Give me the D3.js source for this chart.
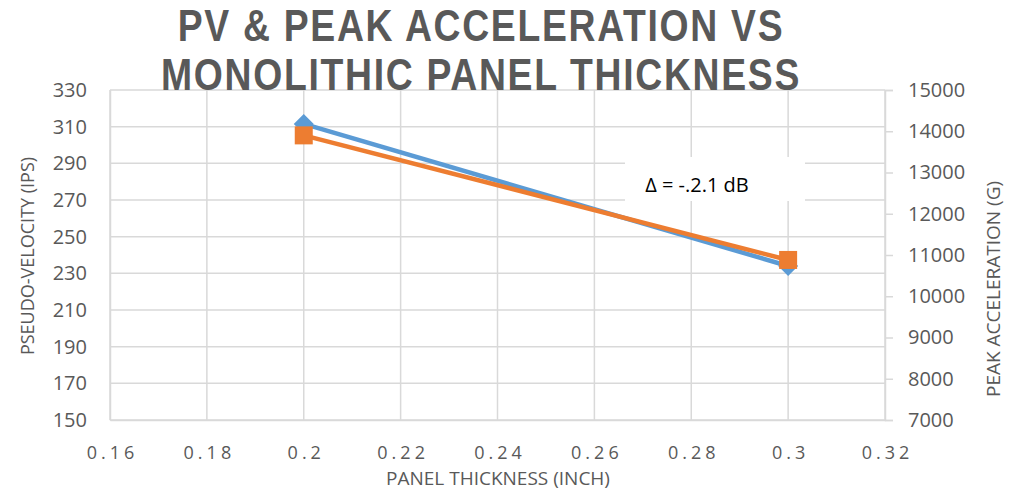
<!DOCTYPE html>
<html><head><meta charset="utf-8">
<script src="https://cdn.jsdelivr.net/npm/d3@7"></script>
<style>body{margin:0;background:#fff}</style>
</head><body>
<svg id="c" width="1010" height="491"></svg>
<script>
const thickness = [0.2, 0.3];
const pseudoVelocity = [311.5, 234];
const peakAccel = [13900, 10880];
const xTicks = [0.16,0.18,0.2,0.22,0.24,0.26,0.28,0.3,0.32];
const yLeftTicks = [150,170,190,210,230,250,270,290,310,330];
const yRightTicks = [7000,8000,9000,10000,11000,12000,13000,14000,15000];
const titleLines = ["PV & PEAK ACCELERATION VS","MONOLITHIC PANEL THICKNESS"];
const note = "Δ = -.2.1 dB";

const svg = d3.select("#c");
const L=110,R=885,T=90,B=420;
const font = "'Open Sans', sans-serif";
const grey = "#595959";
const x = d3.scaleLinear().domain([0.16,0.32]).range([L,R]);
const yL = d3.scaleLinear().domain([150,330]).range([B,T]);
const yR = d3.scaleLinear().domain([7000,15000]).range([B,T]);

// gridlines
svg.append("g").selectAll("line").data(yLeftTicks).join("line")
  .attr("x1",L).attr("x2",R).attr("y1",d=>yL(d)).attr("y2",d=>yL(d))
  .attr("stroke","#d9d9d9").attr("stroke-width",1.5);
svg.append("g").selectAll("line").data(xTicks).join("line")
  .attr("x1",d=>x(d)).attr("x2",d=>x(d)).attr("y1",T).attr("y2",B)
  .attr("stroke","#d9d9d9").attr("stroke-width",1.5);

// axes
const gl = svg.append("g").attr("transform",`translate(${L},0)`)
  .call(d3.axisLeft(yL).tickValues(yLeftTicks).tickSize(0).tickPadding(23));
const gr = svg.append("g").attr("transform",`translate(${R},0)`)
  .call(d3.axisRight(yR).tickValues(yRightTicks).tickSize(8).tickPadding(15).tickFormat(d3.format("d")));
const gb = svg.append("g").attr("transform",`translate(0,${B})`)
  .call(d3.axisBottom(x).tickValues(xTicks).tickSize(0).tickPadding(26).tickFormat(d=>String(+d.toFixed(2))));
[gl,gr,gb].forEach(g=>{
  g.select(".domain").attr("stroke","#d9d9d9").attr("stroke-width",1.5);
  g.selectAll(".tick line").attr("stroke","#d9d9d9").attr("stroke-width",1.5);
  g.selectAll("text").attr("fill",grey).style("font-family",font).style("font-size","20px");
});
gb.selectAll("text").style("font-size","18px").style("letter-spacing","4px").attr("dx","2px");

// lines
const lineL = d3.line().x((d,i)=>x(thickness[i])).y(d=>yL(d));
const lineR = d3.line().x((d,i)=>x(thickness[i])).y(d=>yR(d));
svg.append("path").attr("d",lineL(pseudoVelocity)).attr("fill","none").attr("stroke","#5b9bd5").attr("stroke-width",4.5);
svg.selectAll(".dm").data(pseudoVelocity).join("path")
  .attr("transform",(d,i)=>`translate(${x(thickness[i])},${yL(d)})`)
  .attr("d","M0,-10L10,0L0,10L-10,0Z").attr("fill","#5b9bd5");
svg.append("path").attr("d",lineR(peakAccel)).attr("fill","none").attr("stroke","#ed7d31").attr("stroke-width",4.5);
svg.selectAll(".sq").data(peakAccel).join("rect")
  .attr("x",(d,i)=>x(thickness[i])-9).attr("y",d=>yR(d)-9)
  .attr("width",18).attr("height",18).attr("fill","#ed7d31");

// annotation
svg.append("rect").attr("x",625).attr("y",157).attr("width",180).attr("height",44).attr("fill","#fff");
svg.append("text").attr("x",697).attr("y",192).attr("text-anchor","middle")
  .style("font-family",font).style("font-size","20px").attr("fill","#000").text(note);

// title
const tt = svg.selectAll(".title").data(titleLines).join("text")
  .attr("class","title").attr("text-anchor","middle")
  .style("font-family","'Liberation Sans', Arial, sans-serif").style("font-weight","bold").style("font-size","44px")
  .style("letter-spacing","2px").attr("fill",grey).text(d=>d);
const w2 = tt.nodes()[1].getComputedTextLength();
const sx = Math.min(1, 640 / w2);
tt.attr("transform",(d,i)=>`translate(481,${41+i*49}) scale(${sx},1)`);

// axis titles
svg.append("text").attr("x",498).attr("y",485).attr("text-anchor","middle")
  .style("font-family",font).style("font-size","19px").attr("fill",grey).text("PANEL THICKNESS (INCH)");
svg.append("text").attr("transform","translate(34,256) rotate(-90)").attr("text-anchor","middle")
  .style("font-family",font).style("font-size","18px").attr("fill",grey).text("PSEUDO-VELOCITY (IPS)");
svg.append("text").attr("transform","translate(1000,289) rotate(-90)").attr("text-anchor","middle")
  .style("font-family",font).style("font-size","19px").attr("fill",grey).text("PEAK ACCELERATION (G)");
</script>
</body></html>
